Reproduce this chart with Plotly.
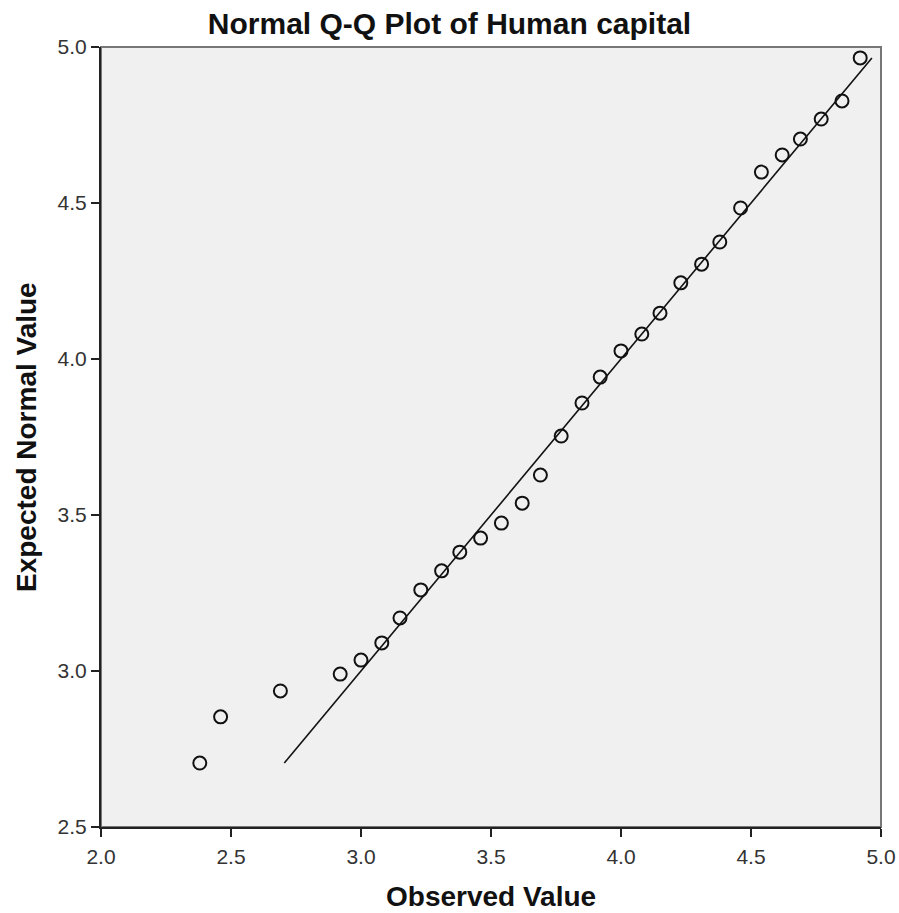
import plotly.graph_objects as go

# Observed scale scores (sorted) and their expected normal quantiles
observed = [2.38, 2.46, 2.69, 2.92, 3.00, 3.08, 3.15, 3.23, 3.31, 3.38,
            3.46, 3.54, 3.62, 3.69, 3.77, 3.85, 3.92, 4.00, 4.08, 4.15,
            4.23, 4.31, 4.38, 4.46, 4.54, 4.62, 4.69, 4.77, 4.85, 4.92]
expected = [2.705, 2.853, 2.936, 2.990, 3.035, 3.090, 3.170, 3.260, 3.321, 3.381,
            3.426, 3.474, 3.538, 3.628, 3.753, 3.859, 3.942, 4.026, 4.080, 4.147,
            4.244, 4.304, 4.375, 4.484, 4.599, 4.654, 4.705, 4.769, 4.827, 4.965]

# Reference line y = x spanning the expected-value range
ref_line = [min(expected), max(expected)]

x_ticks = [2.0, 2.5, 3.0, 3.5, 4.0, 4.5, 5.0]
x_tick_text = ["2.0", "2.5", "3.0", "3.5", "4.0", "4.5", "5.0"]
y_ticks = [2.5, 3.0, 3.5, 4.0, 4.5, 5.0]
y_tick_text = ["2.5", "3.0", "3.5", "4.0", "4.5", "5.0"]

FONT = "Liberation Sans, Arial, sans-serif"

fig = go.Figure()
fig.add_trace(go.Scatter(
    x=ref_line, y=ref_line, mode="lines",
    line=dict(color="#111111", width=1.6),
    hoverinfo="skip", showlegend=False,
))
fig.add_trace(go.Scatter(
    x=observed, y=expected, mode="markers",
    marker=dict(symbol="circle-open", size=13, color="#111111",
                line=dict(width=2, color="#111111")),
    showlegend=False,
))

axis_common = dict(
    showgrid=False, zeroline=False, automargin=False,
    showline=True, linecolor="#222222", linewidth=2,
    ticks="outside", ticklen=8, tickwidth=2, tickcolor="#222222",
    tickfont=dict(family=FONT, size=21, color="#333333"),
    layer="above traces",
)

fig.update_layout(
    width=899, height=913,
    margin=dict(l=101, r=18, t=47, b=86),
    paper_bgcolor="white", plot_bgcolor="#f0f0f0",
    title=dict(
        text="Normal Q-Q Plot of Human capital",
        x=0.5, xanchor="center", xref="container",
        y=1 - 23 / 913, yanchor="middle", yref="container",
        font=dict(family=FONT, size=30, color="#111111", weight="bold"),
    ),
    xaxis=dict(**axis_common, range=[2.0, 5.0],
               tickvals=x_ticks, ticktext=x_tick_text, ticklabelstandoff=2),
    yaxis=dict(**axis_common, range=[2.5, 5.0],
               tickvals=y_ticks, ticktext=y_tick_text, ticklabelstandoff=0),
    shapes=[dict(type="rect", xref="paper", yref="paper", x0=0, y0=0, x1=1, y1=1,
                 line=dict(color="#777777", width=2), layer="below")],
    annotations=[
        dict(text="Observed Value", xref="paper", yref="paper",
             x=0.5, y=-(897 - 827) / 780, xanchor="center", yanchor="middle",
             showarrow=False,
             font=dict(family=FONT, size=28, color="#111111", weight="bold")),
        dict(text="Expected Normal Value", xref="paper", yref="paper",
             x=-(101 - 26) / 780, y=(827 - 437) / 780, xanchor="center", yanchor="middle",
             textangle=-90, showarrow=False,
             font=dict(family=FONT, size=28, color="#111111", weight="bold")),
    ],
)

fig.write_html("out.html")
